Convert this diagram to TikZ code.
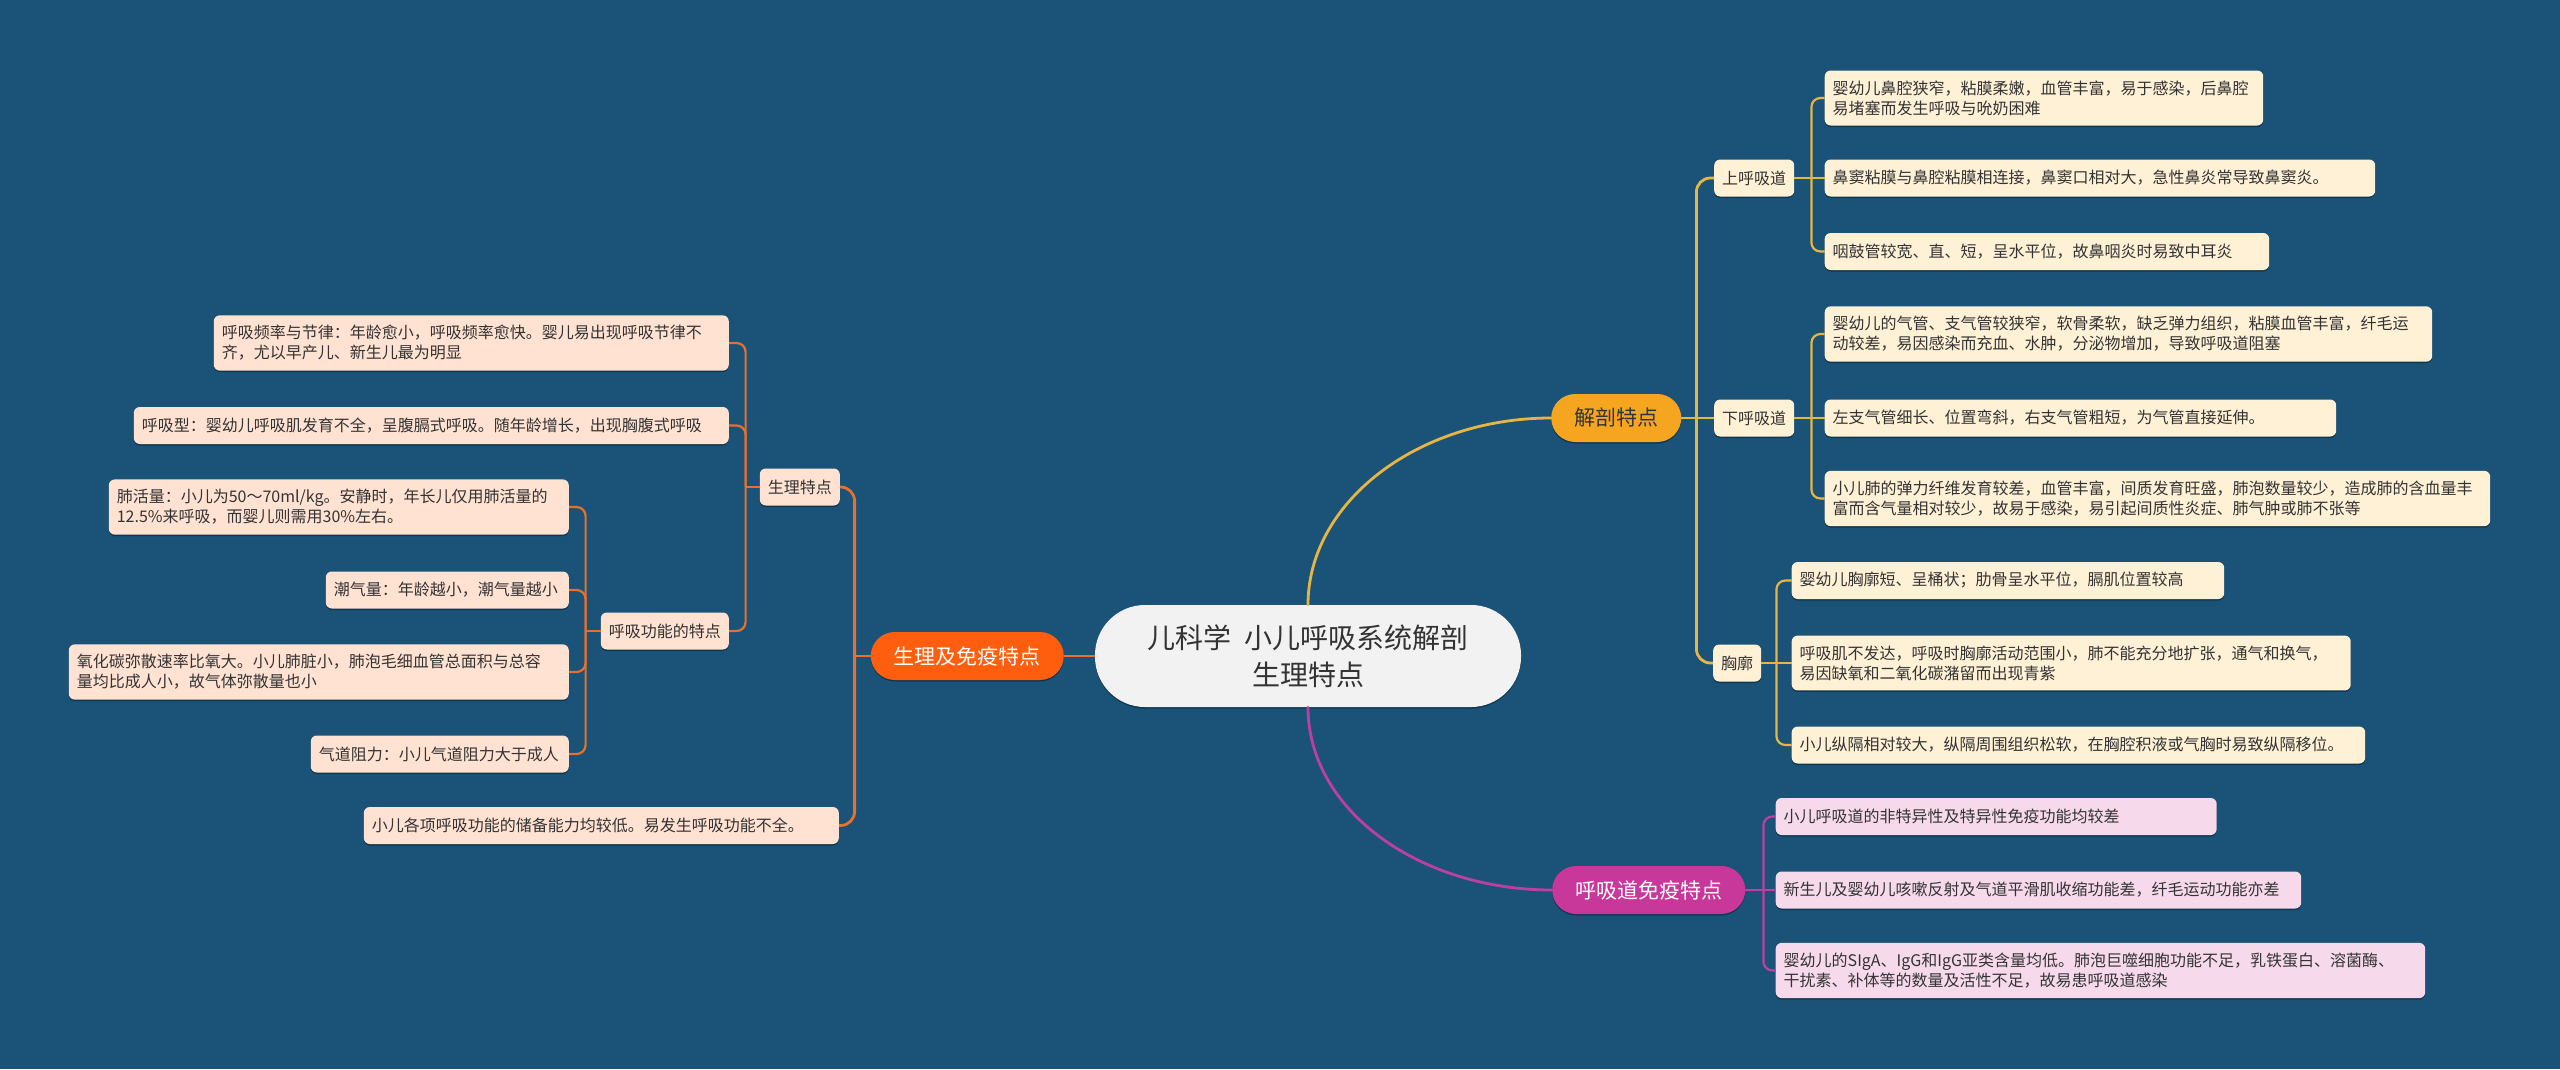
\documentclass[tikz,border=0pt]{standalone}
\usepackage{fontspec}
\setmainfont{Noto Sans CJK SC}
\usetikzlibrary{calc,shadows}
\definecolor{bgc}{HTML}{1A5377}
\definecolor{txt}{HTML}{333333}
\definecolor{goldl}{HTML}{E6B545}
\definecolor{goldf}{HTML}{F6A520}
\definecolor{goldleaf}{HTML}{FFF1D6}
\definecolor{oranl}{HTML}{E8702A}
\definecolor{oranf}{HTML}{FF5E0E}
\definecolor{oranleaf}{HTML}{FFE2D2}
\definecolor{magl}{HTML}{BE3FA3}
\definecolor{magf}{HTML}{C8389A}
\definecolor{magleaf}{HTML}{F6DAEC}
\definecolor{cen}{HTML}{F2F2F2}
\begin{document}
\begin{tikzpicture}[x=1pt,y=-1pt,
  shd/.style={drop shadow={shadow xshift=0pt,shadow yshift=-1.5pt,opacity=0.35,fill=black}},
  base/.style={shd, rounded corners=6pt, inner xsep=8pt, inner ysep=10pt, minimum height=37pt,
    text=txt, font=\fontsize{16}{20}\selectfont, align=left},
  leafA/.style={base, fill=goldleaf, anchor=west},
  leafB/.style={base, fill=oranleaf, anchor=east},
  leafC/.style={base, fill=magleaf, anchor=west},
  midA/.style={base, fill=goldleaf, anchor=west, align=center},
  midB/.style={base, fill=oranleaf, anchor=east, align=center},
  topnode/.style={shd, rounded corners=24pt, minimum height=48pt, inner xsep=23pt,
    font=\fontsize{21}{25}\selectfont, align=center},
  lineA/.style={draw=goldl, line width=2.2pt, rounded corners=9pt},
  lineB/.style={draw=oranl, line width=2.2pt, rounded corners=9pt},
  lineC/.style={draw=magl, line width=2.2pt, rounded corners=9pt},
  mainA/.style={draw=goldl, line width=2.8pt, rounded corners=14pt},
  mainB/.style={draw=oranl, line width=2.8pt, rounded corners=14pt},
  mainC/.style={draw=magl, line width=2.8pt},
]
\fill[bgc] (0,0) rectangle (2560,1069);
\useasboundingbox (0,0) rectangle (2560,1069);

% central
\node[shd, fill=cen, text=txt, minimum width=426pt, minimum height=102pt, rounded corners=50pt,
  align=center, font=\fontsize{28}{37}\selectfont] (C) at (1308,656)
  {儿科学~~小儿呼吸系统解剖\\生理特点};

% level 1
\node[topnode, fill=goldf, text=txt, anchor=west] (JP) at (1551,418) {解剖特点};
\node[topnode, fill=magf, text=white, anchor=west] (IM) at (1552,890) {呼吸道免疫特点};
\node[topnode, fill=oranf, text=white, anchor=east] (SM) at (1064,656) {生理及免疫特点};

% anatomy
\node[midA] (U) at (1714,178) {上呼吸道};
\node[midA] (D) at (1714,418) {下呼吸道};
\node[midA] (X) at (1713,663) {胸廓};

\node[leafA, text width=422.5pt] (L1) at (1824.5,98) {婴幼儿鼻腔狭窄，粘膜柔嫩，血管丰富，易于感染，后鼻腔\\易堵塞而发生呼吸与吮奶困难};
\node[leafA, text width=534.5pt] (L2) at (1824.5,178) {鼻窦粘膜与鼻腔粘膜相连接，鼻窦口相对大，急性鼻炎常导致鼻窦炎。};
\node[leafA, text width=428.5pt] (L3) at (1824.5,251.5) {咽鼓管较宽、直、短，呈水平位，故鼻咽炎时易致中耳炎};
\node[leafA, text width=591.5pt] (L4) at (1824.5,334) {婴幼儿的气管、支气管较狭窄，软骨柔软，缺乏弹力组织，粘膜血管丰富，纤毛运\\动较差，易因感染而充血、水肿，分泌物增加，导致呼吸道阻塞};
\node[leafA, text width=495.5pt] (L5) at (1824.5,418) {左支气管细长、位置弯斜，右支气管粗短，为气管直接延伸。};
\node[leafA, text width=649.5pt] (L6) at (1824.5,498.5) {小儿肺的弹力纤维发育较差，血管丰富，间质发育旺盛，肺泡数量较少，造成肺的含血量丰\\富而含气量相对较少，故易于感染，易引起间质性炎症、肺气肿或肺不张等};
\node[leafA, text width=416.5pt] (L7) at (1791.5,580.5) {婴幼儿胸廓短、呈桶状；肋骨呈水平位，膈肌位置较高};
\node[leafA, text width=543pt] (L8) at (1791.5,663) {呼吸肌不发达，呼吸时胸廓活动范围小，肺不能充分地扩张，通气和换气，\\易因缺氧和二氧化碳潴留而出现青紫};
\node[leafA, text width=557.5pt] (L9) at (1791.5,745) {小儿纵隔相对较大，纵隔周围组织松软，在胸腔积液或气胸时易致纵隔移位。};

% immunity
\node[leafC, text width=425pt] (I1) at (1775.5,816.5) {小儿呼吸道的非特异性及特异性免疫功能均较差};
\node[leafC, text width=509.5pt] (I2) at (1775.5,890) {新生儿及婴幼儿咳嗽反射及气道平滑肌收缩功能差，纤毛运动功能亦差};
\node[leafC, text width=633.5pt] (I3) at (1775.5,970.5) {婴幼儿的SIgA、IgG和IgG亚类含量均低。肺泡巨噬细胞功能不足，乳铁蛋白、溶菌酶、\\干扰素、补体等的数量及活性不足，故易患呼吸道感染};

% physiology
\node[midB] (SL) at (840,487) {生理特点};
\node[midB] (RF) at (729,631) {呼吸功能的特点};
\node[leafB, text width=499pt] (P1) at (729,343) {呼吸频率与节律：年龄愈小，呼吸频率愈快。婴儿易出现呼吸节律不\\齐，尤以早产儿、新生儿最为明显};
\node[leafB, text width=579pt] (P2) at (729,425.5) {呼吸型：婴幼儿呼吸肌发育不全，呈腹膈式呼吸。随年龄增长，出现胸腹式呼吸};
\node[leafB, text width=444pt] (P3) at (569,507) {肺活量：小儿为50～70ml/kg。安静时，年长儿仅用肺活量的\\12.5\%来呼吸，而婴儿则需用30\%左右。};
\node[leafB, text width=227pt] (P4) at (569,590) {潮气量：年龄越小，潮气量越小};
\node[leafB, text width=484pt] (P5) at (569,672) {氧化碳弥散速率比氧大。小儿肺脏小，肺泡毛细血管总面积与总容\\量均比成人小，故气体弥散量也小};
\node[leafB, text width=242pt] (P6) at (569,754) {气道阻力：小儿气道阻力大于成人};
\node[leafB, text width=459pt] (P7) at (839,825.5) {小儿各项呼吸功能的储备能力均较低。易发生呼吸功能不全。};

% trunk coordinates
\coordinate (tJ) at ($(JP.east)+(15,0)$);
\coordinate (tU) at ($(U.east)+(17,0)$);
\coordinate (tD) at ($(D.east)+(17,0)$);
\coordinate (tX) at ($(X.east)+(15,0)$);
\coordinate (tI) at ($(IM.east)+(18,0)$);
\coordinate (tS) at ($(SM.west)+(-16,0)$);
\coordinate (tL) at ($(SL.west)+(-14,0)$);
\coordinate (tR) at ($(RF.west)+(-15,0)$);

% main connectors
\draw[mainA, line cap=round] (C.north) .. controls (1308,502) and (1418,418) .. (JP.west);
\draw[mainC, line cap=round] (C.south) .. controls (1308,810) and (1419,890) .. (IM.west);
\draw[mainB] (C.west) -- (SM.east);

% anatomy connectors
\draw[mainA] (JP.east) -- (tJ);
\draw[mainA] (tJ) |- (U.west);
\draw[mainA] (tJ) -- (D.west);
\draw[mainA] (tJ) |- (X.west);

\draw[lineA] (U.east) -- (tU);
\draw[lineA] (tU) |- (L1.west);
\draw[lineA] (tU) -- (L2.west);
\draw[lineA] (tU) |- (L3.west);

\draw[lineA] (D.east) -- (tD);
\draw[lineA] (tD) |- (L4.west);
\draw[lineA] (tD) -- (L5.west);
\draw[lineA] (tD) |- (L6.west);

\draw[lineA] (X.east) -- (tX);
\draw[lineA] (tX) |- (L7.west);
\draw[lineA] (tX) -- (L8.west);
\draw[lineA] (tX) |- (L9.west);

% immunity connectors
\draw[lineC] (IM.east) -- (tI);
\draw[lineC] (tI) |- (I1.west);
\draw[lineC] (tI) -- (I2.west);
\draw[lineC] (tI) |- (I3.west);

% physiology connectors
\draw[mainB] (SM.west) -- (tS);
\draw[mainB] (tS) |- (SL.east);
\draw[mainB] (tS) |- (P7.east);

\draw[lineB] (SL.west) -- (tL);
\draw[lineB] (tL) |- (P1.east);
\draw[lineB] (tL) |- (P2.east);
\draw[lineB] (tL) |- (RF.east);

\draw[lineB] (RF.west) -- (tR);
\draw[lineB] (tR) |- (P3.east);
\draw[lineB] (tR) |- (P4.east);
\draw[lineB] (tR) |- (P5.east);
\draw[lineB] (tR) |- (P6.east);
\end{tikzpicture}
\end{document}
